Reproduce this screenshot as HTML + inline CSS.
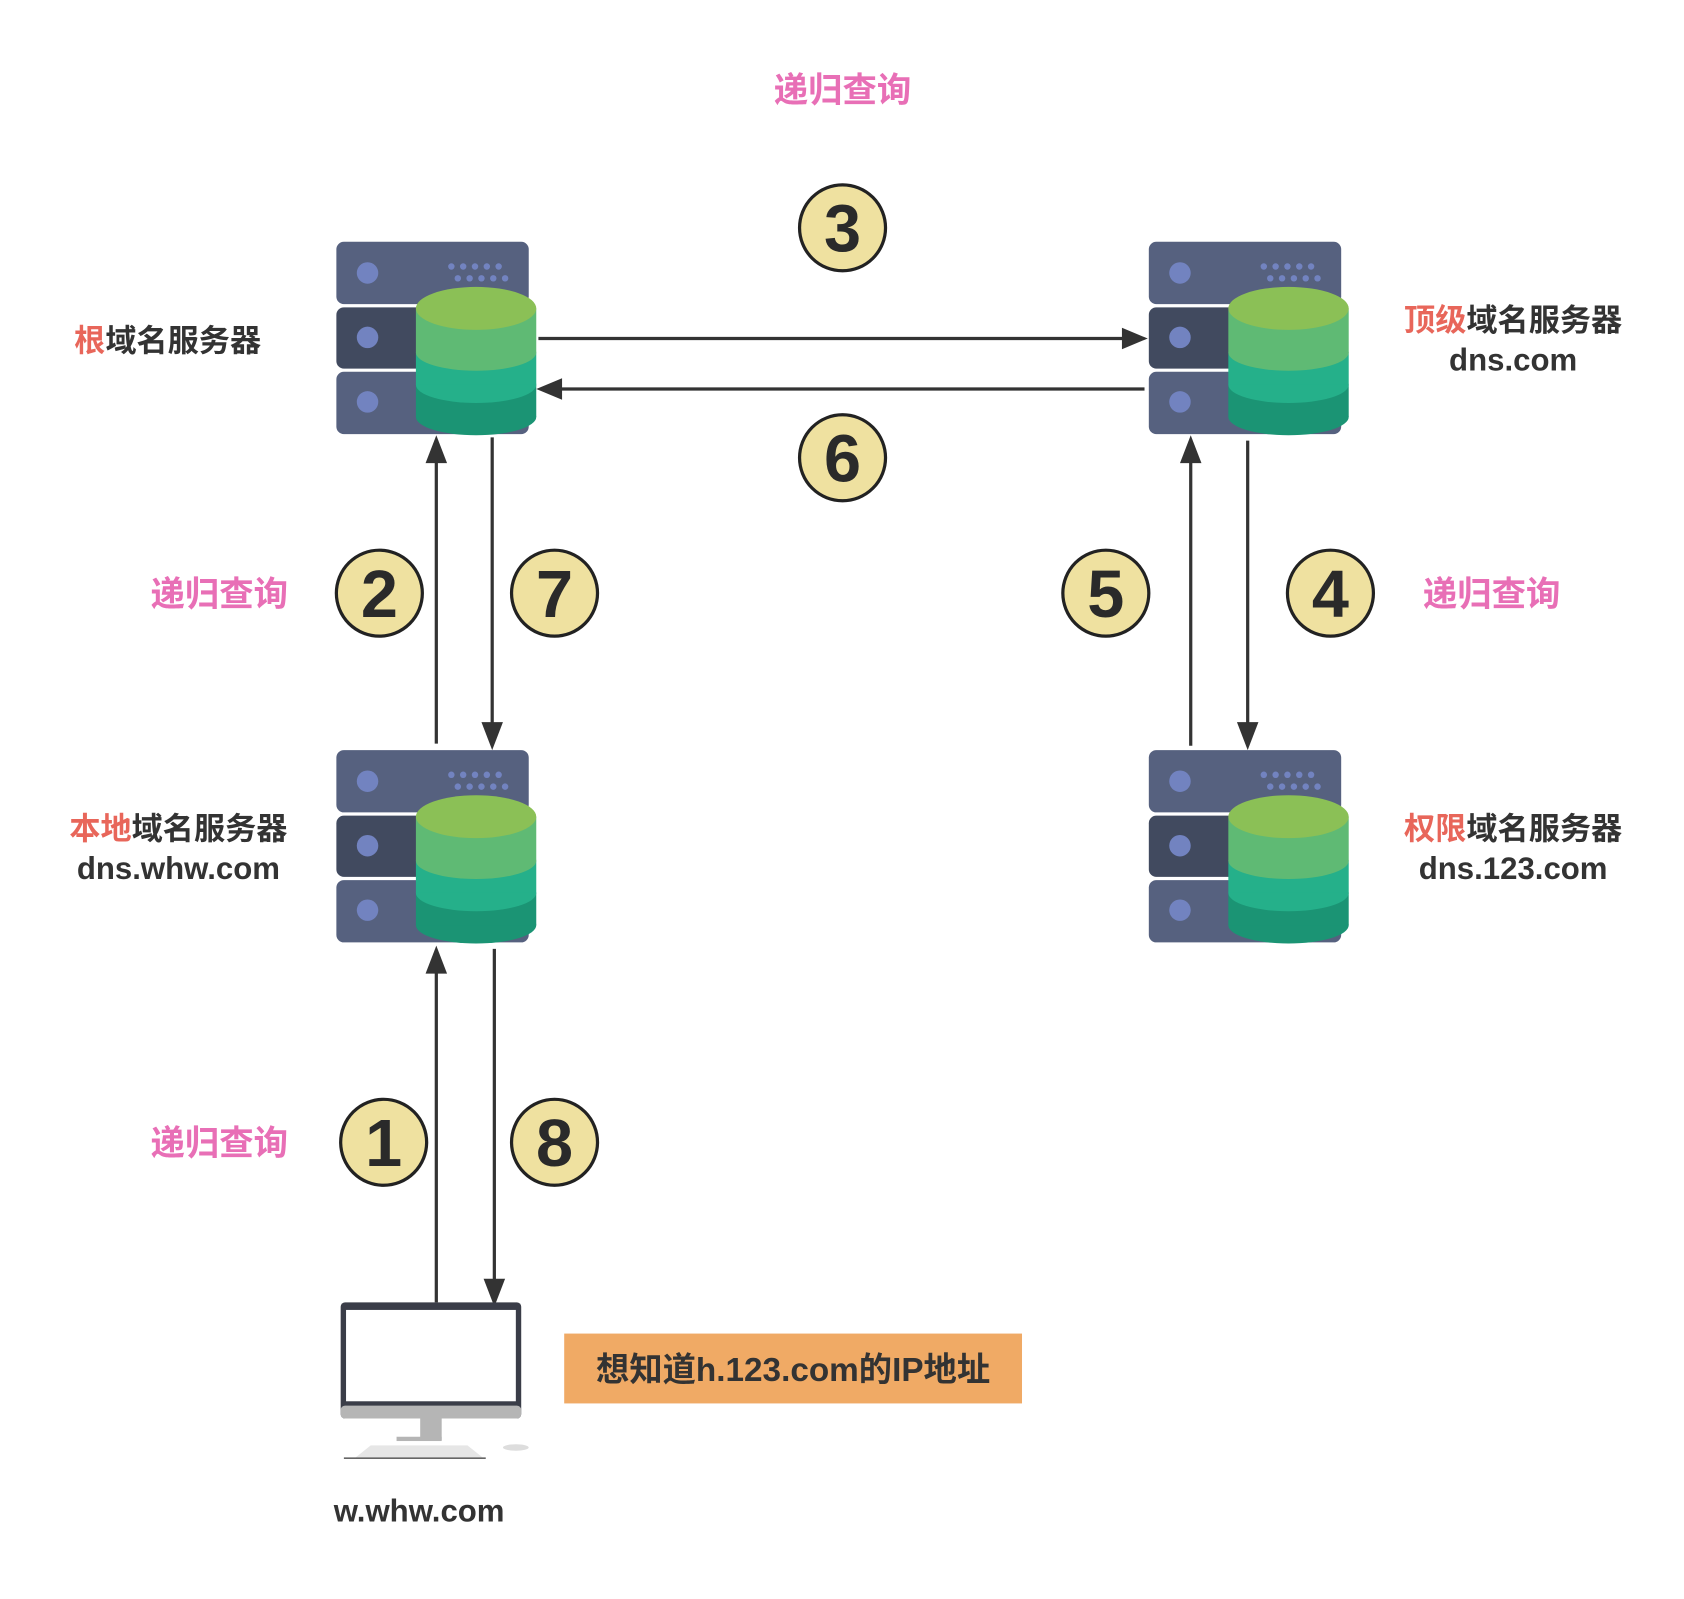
<!DOCTYPE html>
<html><head><meta charset="utf-8"><style>
html,body{margin:0;padding:0;background:#fff;}
svg{display:block;}
text{font-family:"Liberation Sans","Noto Sans CJK SC",sans-serif;font-weight:bold;}
</style></head><body>
<svg width="1684" height="1599" viewBox="0 0 1567 1488" preserveAspectRatio="none" xmlns="http://www.w3.org/2000/svg">
<defs>
<g id="srv">
<rect x="0" y="0" width="179" height="58" rx="7" fill="#56617f"/>
<rect x="0" y="61" width="179" height="57" rx="7" fill="#414a5f"/>
<rect x="0" y="121" width="179" height="58" rx="7" fill="#56617f"/>
<circle cx="29" cy="29" r="10" fill="#7283c0"/>
<circle cx="29" cy="89" r="10" fill="#7283c0"/>
<circle cx="29" cy="149" r="10" fill="#7283c0"/>
<g fill="#7283c0">
<circle cx="107" cy="23" r="3"/><circle cx="118" cy="23" r="3"/><circle cx="129" cy="23" r="3"/><circle cx="140" cy="23" r="3"/><circle cx="151" cy="23" r="3"/>
<circle cx="113" cy="34" r="3"/><circle cx="124" cy="34" r="3"/><circle cx="135" cy="34" r="3"/><circle cx="146" cy="34" r="3"/><circle cx="157" cy="34" r="3"/>
</g>
<ellipse cx="130" cy="163" rx="56" ry="17" fill="#1b9474"/>
<rect x="74" y="133" width="112" height="30" fill="#1b9474"/>
<ellipse cx="130" cy="133" rx="56" ry="17" fill="#25b08a"/>
<rect x="74" y="103" width="112" height="30" fill="#25b08a"/>
<ellipse cx="130" cy="103" rx="56" ry="17" fill="#5fba74"/>
<rect x="74" y="62" width="112" height="41" fill="#5fba74"/>
<ellipse cx="130" cy="62" rx="56" ry="20" fill="#8bc056"/>
</g>
</defs>

<use href="#srv" x="313" y="225"/>
<use href="#srv" x="1069" y="225"/>
<use href="#srv" x="313" y="698"/>
<use href="#srv" x="1069" y="698"/>

<g stroke="#333" stroke-width="3" fill="none">
<line x1="501" y1="315" x2="1045" y2="315"/>
<line x1="1065" y1="362" x2="522" y2="362"/>
<line x1="406" y1="692" x2="406" y2="430"/>
<line x1="458" y1="407" x2="458" y2="675"/>
<line x1="1108" y1="694" x2="1108" y2="428"/>
<line x1="1161" y1="410" x2="1161" y2="675"/>
<line x1="406" y1="1212" x2="406" y2="903"/>
<line x1="460" y1="883" x2="460" y2="1193"/>
</g>
<g fill="#333">
<path d="M1068,315 L1044,305 L1044,325 z"/>
<path d="M499,362 L523,352 L523,372 z"/>
<path d="M406,405 L396,431 L416,431 z"/>
<path d="M458,698 L448,672 L468,672 z"/>
<path d="M1108,405 L1098,431 L1118,431 z"/>
<path d="M1161,698 L1151,672 L1171,672 z"/>
<path d="M406,880 L396,906 L416,906 z"/>
<path d="M460,1216 L450,1190 L470,1190 z"/>
</g>

<g fill="#efe1a0" stroke="#222" stroke-width="3">
<circle cx="784" cy="212" r="40"/>
<circle cx="784" cy="426" r="40"/>
<circle cx="353" cy="552" r="40"/>
<circle cx="516" cy="552" r="40"/>
<circle cx="1029" cy="552" r="40"/>
<circle cx="1238" cy="552" r="40"/>
<circle cx="357" cy="1063" r="40"/>
<circle cx="516" cy="1063" r="40"/>
</g>
<g fill="#2a2a2a" font-size="62" text-anchor="middle">
<text x="784" y="234">3</text>
<text x="784" y="448">6</text>
<text x="353" y="574">2</text>
<text x="516" y="574">7</text>
<text x="1029" y="574">5</text>
<text x="1238" y="574">4</text>
<text x="357" y="1085">1</text>
<text x="516" y="1085">8</text>
</g>

<g fill="#e86fb6" font-size="32" text-anchor="middle">
<text x="784" y="95">递归查询</text>
<text x="204" y="564">递归查询</text>
<text x="1388" y="564">递归查询</text>
<text x="204" y="1075">递归查询</text>
</g>

<g font-size="29" fill="#333">
<text x="69" y="327"><tspan fill="#e8665a">根</tspan>域名服务器</text>
<text x="1408" y="308" text-anchor="middle"><tspan fill="#e8665a">顶级</tspan>域名服务器</text>
<text x="1408" y="345" text-anchor="middle">dns.com</text>
<text x="166" y="781" text-anchor="middle"><tspan fill="#e8665a">本地</tspan>域名服务器</text>
<text x="166" y="818" text-anchor="middle">dns.whw.com</text>
<text x="1408" y="781" text-anchor="middle"><tspan fill="#e8665a">权限</tspan>域名服务器</text>
<text x="1408" y="818" text-anchor="middle">dns.123.com</text>
<text x="390" y="1416" text-anchor="middle">w.whw.com</text>
</g>

<rect x="525" y="1241" width="426" height="65" fill="#f0aa65"/>
<text x="738" y="1285" font-size="31" fill="#333" text-anchor="middle">想知道h.123.com的IP地址</text>

<rect x="317" y="1212" width="168" height="108" rx="4" fill="#3a3d48"/>
<rect x="322" y="1219" width="158" height="85" fill="#fff"/>
<rect x="317" y="1308" width="168" height="12" rx="4" fill="#b5b5b5"/>
<rect x="391" y="1320" width="20" height="20" fill="#b5b5b5"/>
<rect x="369" y="1337" width="42" height="4" fill="#b5b5b5"/>
<path d="M330,1357 L345,1345 L435,1345 L450,1357 z" fill="#e6e6e6"/>
<ellipse cx="480" cy="1347" rx="12" ry="3" fill="#ddd"/>
<line x1="320" y1="1357" x2="452" y2="1357" stroke="#666" stroke-width="1.5"/>
</svg>
</body></html>
